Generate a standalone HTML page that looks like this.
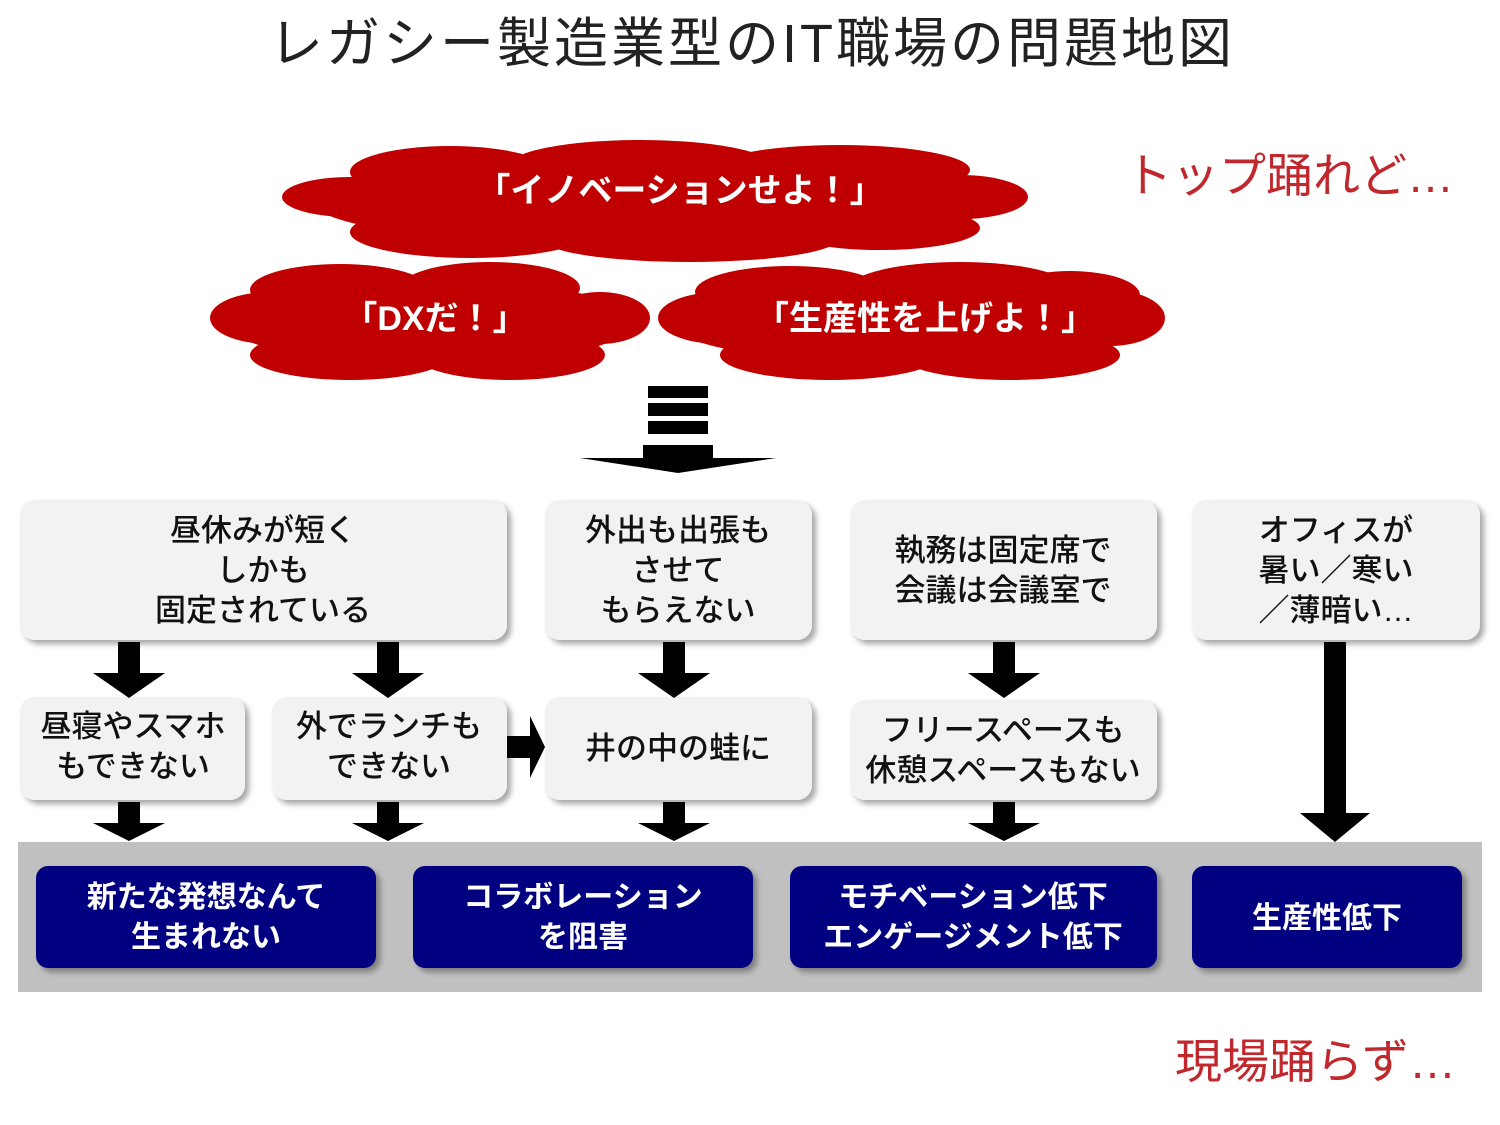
<!DOCTYPE html>
<html><head><meta charset="utf-8"><style>
html,body{margin:0;padding:0;background:#fff;}
svg{display:block;}
text{font-family:"Liberation Sans","Noto Sans CJK JP",sans-serif;}
</style></head><body>
<svg width="1500" height="1125" viewBox="0 0 1500 1125" xmlns="http://www.w3.org/2000/svg">
<defs>
<filter id="sh" x="-10%" y="-10%" width="130%" height="130%"><feDropShadow dx="4" dy="4" stdDeviation="3" flood-color="#000" flood-opacity="0.35"/></filter>
</defs>
<text x="752" y="62" font-size="54" fill="#222" text-anchor="middle" letter-spacing="3">レガシー製造業型のIT職場の問題地図</text>
<text x="1125" y="192" font-size="47" fill="#c0282d">トップ踊れど…</text>
<text x="1175" y="1078" font-size="47" fill="#c0282d">現場踊らず…</text>

<g fill="#c00000">
<ellipse cx="655" cy="200" rx="345" ry="48"/>
<ellipse cx="350" cy="197" rx="68" ry="20"/>
<ellipse cx="960" cy="197" rx="68" ry="22"/>
<ellipse cx="450" cy="172" rx="100" ry="26"/>
<ellipse cx="640" cy="165" rx="130" ry="25"/>
<ellipse cx="840" cy="170" rx="130" ry="25"/>
<ellipse cx="470" cy="232" rx="120" ry="26"/>
<ellipse cx="690" cy="238" rx="150" ry="24"/>
<ellipse cx="880" cy="228" rx="100" ry="22"/>

<ellipse cx="430" cy="322" rx="205" ry="42"/>
<ellipse cx="270" cy="318" rx="60" ry="26"/>
<ellipse cx="600" cy="318" rx="50" ry="26"/>
<ellipse cx="340" cy="290" rx="90" ry="26"/>
<ellipse cx="490" cy="288" rx="90" ry="26"/>
<ellipse cx="350" cy="355" rx="100" ry="25"/>
<ellipse cx="510" cy="355" rx="95" ry="25"/>

<ellipse cx="910" cy="322" rx="240" ry="42"/>
<ellipse cx="720" cy="318" rx="62" ry="26"/>
<ellipse cx="1110" cy="318" rx="55" ry="28"/>
<ellipse cx="790" cy="292" rx="95" ry="26"/>
<ellipse cx="960" cy="288" rx="110" ry="26"/>
<ellipse cx="1070" cy="295" rx="70" ry="24"/>
<ellipse cx="830" cy="355" rx="110" ry="25"/>
<ellipse cx="1010" cy="355" rx="110" ry="25"/>
</g>
<g fill="#fff" font-weight="bold" text-anchor="middle">
<text x="680" y="202" font-size="34">「イノベーションせよ！」</text>
<text x="435" y="330" font-size="34">「DXだ！」</text>
<text x="925" y="330" font-size="34">「生産性を上げよ！」</text>
</g>

<g fill="#000">
<rect x="648" y="386" width="60" height="12"/>
<rect x="648" y="403" width="60" height="13"/>
<rect x="648" y="421" width="60" height="13"/>
<rect x="643" y="445" width="70" height="14"/>
<polygon points="580,458 776,458 678,473"/>
</g>

<rect x="18" y="842" width="1464" height="150" fill="#c0c0c0"/>

<g fill="#f2f2f2" filter="url(#sh)">
<rect x="20" y="500" width="487" height="140" rx="15"/>
<rect x="545" y="500" width="267" height="140" rx="15"/>
<rect x="850" y="500" width="307" height="140" rx="15"/>
<rect x="1192" y="500" width="288" height="140" rx="15"/>
<rect x="20" y="697" width="225" height="103" rx="15"/>
<rect x="272" y="697" width="235" height="103" rx="15"/>
<rect x="545" y="697" width="267" height="103" rx="15"/>
<rect x="850" y="700" width="307" height="100" rx="15"/>
</g>
<g fill="#000080" filter="url(#sh)">
<rect x="36" y="866" width="340" height="102" rx="12"/>
<rect x="413" y="866" width="340" height="102" rx="12"/>
<rect x="790" y="866" width="367" height="102" rx="12"/>
<rect x="1192" y="866" width="270" height="102" rx="12"/>
</g>

<g font-size="31" fill="#111" text-anchor="middle" font-weight="500">
<text x="263" y="541">昼休みが短く</text>
<text x="263" y="581">しかも</text>
<text x="263" y="621">固定されている</text>
<text x="678" y="541">外出も出張も</text>
<text x="678" y="581">させて</text>
<text x="678" y="621">もらえない</text>
<text x="1003" y="561">執務は固定席で</text>
<text x="1003" y="601">会議は会議室で</text>
<text x="1336" y="541">オフィスが</text>
<text x="1336" y="581">暑い／寒い</text>
<text x="1336" y="621">／薄暗い…</text>
<text x="133" y="737">昼寝やスマホ</text>
<text x="133" y="777">もできない</text>
<text x="389" y="737">外でランチも</text>
<text x="389" y="777">できない</text>
<text x="678" y="759">井の中の蛙に</text>
<text x="1003" y="741">フリースペースも</text>
<text x="1003" y="781">休憩スペースもない</text>
</g>
<g font-size="30" fill="#fff" font-weight="bold" text-anchor="middle">
<text x="206" y="907">新たな発想なんて</text>
<text x="206" y="947">生まれない</text>
<text x="583" y="907">コラボレーション</text>
<text x="583" y="947">を阻害</text>
<text x="973" y="907">モチベーション低下</text>
<text x="973" y="947">エンゲージメント低下</text>
<text x="1327" y="928">生産性低下</text>
</g>

<g fill="#000">
<rect x="118" y="642" width="22" height="32"/><polygon points="93,673 165,673 129,698"/>
<rect x="377" y="642" width="22" height="32"/><polygon points="352,673 424,673 388,698"/>
<rect x="663" y="642" width="22" height="32"/><polygon points="638,673 710,673 674,698"/>
<rect x="993" y="642" width="22" height="32"/><polygon points="968,673 1040,673 1004,698"/>

<rect x="118" y="802" width="22" height="22"/><polygon points="93,823 165,823 129,841"/>
<rect x="377" y="802" width="22" height="22"/><polygon points="352,823 424,823 388,841"/>
<rect x="663" y="802" width="22" height="22"/><polygon points="638,823 710,823 674,841"/>
<rect x="993" y="802" width="22" height="22"/><polygon points="968,823 1040,823 1004,841"/>

<rect x="1324" y="642" width="22" height="172"/><polygon points="1300,813 1370,813 1335,842"/>

<rect x="507" y="736" width="24" height="22"/><polygon points="530,716 545,747 530,778"/>
</g>
</svg>
</body></html>
